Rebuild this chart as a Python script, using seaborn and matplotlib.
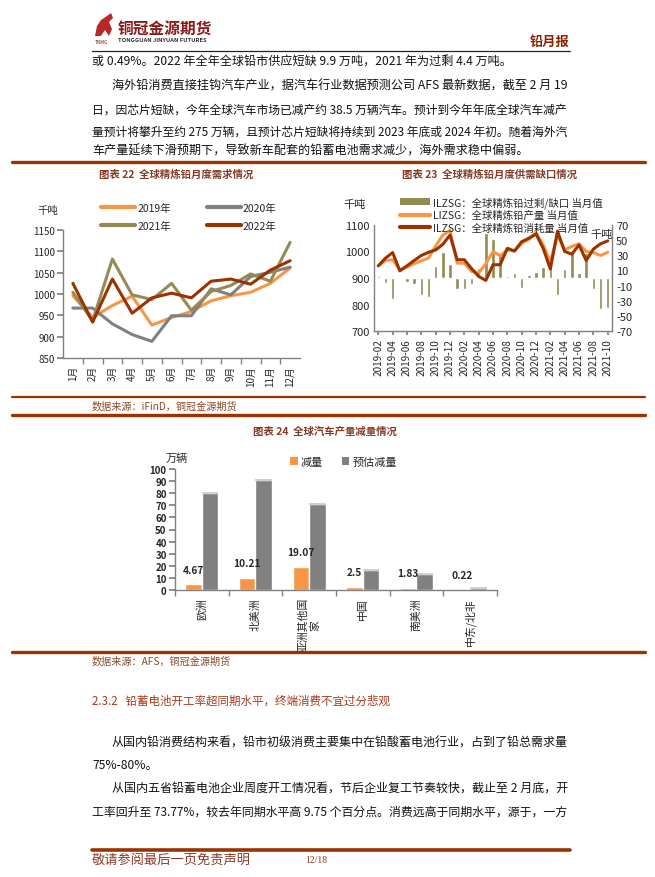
import matplotlib

matplotlib.use("Agg")

import matplotlib.pyplot as plt
import numpy as np
import pandas as pd
import seaborn as sns
from matplotlib.lines import Line2D
from matplotlib.patches import Patch, Polygon

# ---- data ----
months = ["1月", "2月", "3月", "4月", "5月", "6月", "7月", "8月", "9月", "10月", "11月", "12月"]
demand_2019 = [996, 945, 973, 995, 927, 945, 959, 984, 996, 1004, 1025, 1061]
demand_2020 = [967, 967, 930, 905, 889, 949, 949, 1012, 998, 1041, 1051, 1063]
demand_2021 = [1004, 937, 1082, 998, 987, 1025, 962, 1006, 1020, 1047, 1030, 1121]
demand_2022 = [1025, 934, 1035, 955, 991, 1002, 991, 1030, 1035, 1023, 1056, 1078]

gap_months = [
    "2019-02", "2019-03", "2019-04", "2019-05", "2019-06", "2019-07", "2019-08",
    "2019-09", "2019-10", "2019-11", "2019-12", "2020-01", "2020-02", "2020-03",
    "2020-04", "2020-05", "2020-06", "2020-07", "2020-08", "2020-09", "2020-10",
    "2020-11", "2020-12", "2021-01", "2021-02", "2021-03", "2021-04", "2021-05",
    "2021-06", "2021-07", "2021-08", "2021-09", "2021-10",
]
gap_balance = [3, -6.5, -27.5, 1.5, -5, -8, -22, -25, 16, 34.5, 18, -15, -15, -8,
               13, 59, 51, 33, 2, 6, -13.5, 4, 8, 14, 16, -23, 12, 36, 7, 33, -15,
               -41.5, -40]
gap_production = [946, 966, 969, 931, 941, 954, 965, 975, 1021, 1062, 1079, 956, 956,
                  925, 919, 954, 1000, 984, 1006, 1002, 1031, 1046, 1071, 1025, 962,
                  1060, 1006, 1019, 1029, 1000, 996, 985, 997]
gap_consumption = [946, 975, 996, 927, 946, 966, 985, 997, 1006, 1027, 1062, 969, 969,
                   936, 906, 891, 950, 950, 1012, 1002, 1037, 1050, 1066, 1012, 934,
                   1077, 1000, 990, 1025, 966, 1009, 1029, 1040]

regions = ["欧洲", "北美洲", "亚洲其他国家", "中国", "南美洲", "中东/北非"]
region_labels = ["欧洲", "北美洲", "亚洲其他国\n家", "中国", "南美洲", "中东/北非"]
cut_actual = [4.67, 10.21, 19.07, 2.5, 1.83, 0.22]
cut_forecast = [80.5, 91, 71, 16.5, 13.5, 1.8]

# ---- style ----
sns.set_theme(style="white")
plt.rcParams["font.family"] = ["Noto Sans CJK SC", "DejaVu Sans"]
plt.rcParams["axes.unicode_minus"] = False

W, H = 655, 878
BROWN = "#993300"
TITLE_C = "#843C28"
ORANGE = "#F79646"
GRAY = "#808080"
OLIVE = "#948A54"
AXIS_C = "#808080"

fig = plt.figure(figsize=(W / 100, H / 100), dpi=100)
fig.patch.set_facecolor("white")
renderer = fig.canvas.get_renderer()


def add_ax(left, top, right, bottom):
    return fig.add_axes([left / W, 1 - bottom / H, (right - left) / W, (bottom - top) / H])


def ftext(x, y, s, **kw):
    kw.setdefault("va", "center")
    return fig.text(x / W, 1 - y / H, s, **kw)


def hline(y, x0, x1, lw, color):
    fig.add_artist(Line2D([x0 / W, x1 / W], [1 - y / H, 1 - y / H],
                          transform=fig.transFigure, lw=lw, color=color))


def body_line(x0, y, s, x1=None, size=8.7):
    t = ftext(x0, y, s, fontsize=size, color="#111111")
    if x1 is not None:
        width = t.get_window_extent(renderer).width
        t.set_fontsize(size * (x1 - x0) / width)
    return t


def style_axes(ax, right=False):
    for side in ["top", "right", "left", "bottom"]:
        ax.spines[side].set_visible(False)
    for side in ["left", "bottom"] + (["right"] if right else []):
        ax.spines[side].set_visible(True)
        ax.spines[side].set_color(AXIS_C)
        ax.spines[side].set_linewidth(1.0)
    ax.grid(False)
    ax.set_xlabel("")
    ax.set_ylabel("")
    ax.patch.set_visible(False)


# ---- header ----
logo_pts = [(95, 37), (97, 27), (101, 21), (107, 17), (111, 14), (113, 19), (109, 23),
            (112, 30), (109, 37), (105, 31), (101, 37)]
logo = Polygon([(x / W, 1 - y / H) for x, y in logo_pts], closed=True,
               transform=fig.transFigure, facecolor="#B8282A", edgecolor="none")
fig.add_artist(logo)
ftext(95, 42, "TNMG", fontsize=3.4, color="#8B1A1A")
ftext(118, 30, "铜冠金源期货", fontsize=11.3, color="#8B1A1A", fontweight="bold")
ftext(118, 41, "TONGGUAN JINYUAN FUTURES", fontsize=4.2, color="#333333", fontweight="bold")
ftext(570, 42, "铅月报", fontsize=9.5, color="#8B2500", fontweight="bold", ha="right")
hline(52, 92, 570, 0.9, "#222222")

body_line(92, 62, "或 0.49%。2022 年全年全球铅市供应短缺 9.9 万吨，2021 年为过剩 4.4 万吨。")
body_line(112, 86, "海外铅消费直接挂钩汽车产业，据汽车行业数据预测公司 AFS 最新数据，截至 2 月 19", 570)
body_line(92, 110, "日，因芯片短缺，今年全球汽车市场已减产约 38.5 万辆汽车。预计到今年年底全球汽车减产", 570)
body_line(92, 132, "量预计将攀升至约 275 万辆，且预计芯片短缺将持续到 2023 年底或 2024 年初。随着海外汽", 570)
body_line(92, 151, "车产量延续下滑预期下，导致新车配套的铅蓄电池需求减少，海外需求稳中偏弱。")
hline(163, 12, 645, 2.4, BROWN)

# ---- chart 22 ----
ftext(176, 175, "图表 22  全球精炼铅月度需求情况", fontsize=7.5, color=TITLE_C,
      fontweight="bold", ha="center")
ax1 = add_ax(63, 231, 300, 359)
pos12 = np.arange(len(months))
df22 = pd.DataFrame({
    "pos": np.tile(pos12, 4),
    "value": demand_2019 + demand_2020 + demand_2021 + demand_2022,
    "year": ["2019年"] * 12 + ["2020年"] * 12 + ["2021年"] * 12 + ["2022年"] * 12,
})
year_colors = {"2019年": ORANGE, "2020年": GRAY, "2021年": OLIVE, "2022年": BROWN}
sns.lineplot(data=df22, x="pos", y="value", hue="year", palette=year_colors,
             linewidth=2.2, ax=ax1, legend=False)
style_axes(ax1)
ax1.set_xlim(-0.5, 11.5)
ax1.set_ylim(850, 1150)
ax1.set_yticks(range(850, 1151, 50))
ax1.set_xticks(pos12)
ax1.set_xticklabels(months, rotation=90, fontsize=7)
ax1.set_xticks(np.arange(0.5, 11, 1), minor=True)
ax1.tick_params(axis="x", which="major", length=0, pad=5)
ax1.tick_params(axis="x", which="minor", length=4, color=AXIS_C, direction="out", bottom=True)
ax1.tick_params(axis="y", labelsize=7, length=4, color=AXIS_C, direction="out", left=True, pad=2)
ftext(48, 211, "千吨", fontsize=7.5, ha="center")
h22 = [Line2D([], [], color=year_colors[k], lw=3) for k in ["2019年", "2021年", "2020年", "2022年"]]
fig.legend(h22, ["2019年", "2021年", "2020年", "2022年"], ncol=2, frameon=False,
           loc="upper left", bbox_to_anchor=(101 / W, 1 - 204 / H), fontsize=7.5,
           handlelength=3.3, handletextpad=0.2, columnspacing=3.4, labelspacing=0.75,
           borderaxespad=0, borderpad=0)

# ---- chart 23 ----
ftext(490, 175, "图表 23  全球精炼铅月度供需缺口情况", fontsize=7.5, color=TITLE_C,
      fontweight="bold", ha="center")
ax2 = add_ax(374, 226, 612, 332)
tw = ax2.twinx()
pos33 = np.arange(len(gap_months))
sns.barplot(x=pos33, y=gap_balance, color=OLIVE, width=0.5, saturation=1, ax=tw)
df23 = pd.DataFrame({
    "pos": np.tile(pos33, 2),
    "value": gap_production + gap_consumption,
    "series": ["prod"] * len(pos33) + ["cons"] * len(pos33),
})
sns.lineplot(data=df23, x="pos", y="value", hue="series",
             palette={"prod": ORANGE, "cons": BROWN}, linewidth=2.2, ax=ax2, legend=False)
style_axes(ax2, right=True)
for side in ["top", "left", "bottom", "right"]:
    tw.spines[side].set_visible(False)
tw.grid(False)
tw.set_ylabel("")
ax2.set_zorder(tw.get_zorder() + 1)
ax2.set_xlim(-0.6, len(pos33) - 0.4)
tw.set_xlim(-0.6, len(pos33) - 0.4)
ax2.set_ylim(700, 1100)
ax2.set_yticks(range(700, 1101, 100))
tw.set_ylim(-70, 70)
tw.set_yticks(range(-70, 71, 20))
ax2.set_xticks(pos33[::2])
ax2.set_xticklabels(gap_months[::2], rotation=90, fontsize=7.2)
ax2.tick_params(axis="x", length=3, color=AXIS_C, direction="out", bottom=True, pad=2)
ax2.tick_params(axis="y", labelsize=8, length=0, pad=3)
tw.tick_params(axis="y", labelsize=8, length=0, pad=3, right=True)
ftext(355, 205, "千吨", fontsize=8, ha="center")
ftext(602, 235, "千吨", fontsize=8, ha="center")
h23 = [Patch(facecolor=OLIVE, edgecolor="none"),
       Line2D([], [], color=ORANGE, lw=3), Line2D([], [], color=BROWN, lw=3)]
fig.legend(h23, ["ILZSG：全球精炼铅过剩/缺口 当月值", "LIZSG：全球精炼铅产量 当月值",
                 "ILZSG：全球精炼铅消耗量 当月值"],
           frameon=False, loc="upper left", bbox_to_anchor=(400 / W, 1 - 197 / H),
           fontsize=7.5, handlelength=2.9, handleheight=0.7, handletextpad=0.3,
           labelspacing=0.22, borderaxespad=0, borderpad=0)

hline(398, 12, 645, 1.6, BROWN)
ftext(92, 407, "数据来源：iFinD，铜冠金源期货", fontsize=7.3, color="#8B4A2B")
hline(416, 12, 645, 2.4, BROWN)

# ---- chart 24 ----
ftext(325, 432, "图表 24  全球汽车产量减量情况", fontsize=7.5, color=TITLE_C,
      fontweight="bold", ha="center")
ax3 = add_ax(175, 470, 497, 591)
df24 = pd.DataFrame({
    "region": regions * 2,
    "value": cut_actual + cut_forecast,
    "series": ["减量"] * len(regions) + ["预估减量"] * len(regions),
})
sns.barplot(data=df24, x="region", y="value", hue="series",
            palette={"减量": ORANGE, "预估减量": GRAY}, width=0.62, saturation=1,
            ax=ax3, legend=False)
style_axes(ax3)
ax3.set_xlim(-0.5, len(regions) - 0.5)
ax3.set_ylim(0, 100)
ax3.set_yticks(range(0, 101, 10))
ax3.set_xticks(np.arange(len(regions)))
ax3.set_xticklabels(region_labels, rotation=90, fontsize=7.8, multialignment="center")
ax3.set_xticks(np.arange(-0.5, len(regions), 1), minor=True)
ax3.tick_params(axis="x", which="major", length=0, pad=5)
ax3.tick_params(axis="x", which="minor", length=4, color=AXIS_C, direction="out", bottom=True)
ax3.tick_params(axis="y", labelsize=7, length=4, color=AXIS_C, direction="out", left=True, pad=2)
for lab in ax3.get_yticklabels():
    lab.set_fontweight("bold")
# light top edge on the forecast bars, as in the original
for bar in ax3.containers[1]:
    ax3.plot([bar.get_x(), bar.get_x() + bar.get_width()], [bar.get_height()] * 2,
             color="#C8C8C8", lw=1.2, solid_capstyle="butt")
ax3.bar_label(ax3.containers[0], labels=[f"{v:g}" for v in cut_actual], padding=7,
              fontsize=7.3, fontweight="bold")
ftext(177, 459, "万辆", fontsize=8, ha="center")
h24 = [Patch(facecolor=ORANGE, edgecolor="none"), Patch(facecolor=GRAY, edgecolor="none")]
fig.legend(h24, ["减量", "预估减量"], ncol=2, frameon=False, loc="center left",
           bbox_to_anchor=(290 / W, 1 - 463 / H), fontsize=8, handlelength=0.7,
           handleheight=0.7, handletextpad=0.25, columnspacing=1.7,
           borderaxespad=0, borderpad=0)

hline(653, 12, 645, 2.4, BROWN)
ftext(92, 662, "数据来源：AFS，铜冠金源期货", fontsize=7.3, color="#8B4A2B")

# ---- section text ----
ftext(92, 701, "2.3.2   铅蓄电池开工率超同期水平，终端消费不宜过分悲观", fontsize=8.3,
      color="#A83A1C")
body_line(112, 743, "从国内铅消费结构来看，铅市初级消费主要集中在铅酸蓄电池行业，占到了铅总需求量", 570)
body_line(92, 766, "75%-80%。")
body_line(112, 788, "从国内五省铅蓄电池企业周度开工情况看，节后企业复工节奏较快，截止至 2 月底，开", 570)
body_line(92, 812, "工率回升至 73.77%，较去年同期水平高 9.75 个百分点。消费远高于同期水平，源于，一方", 570)

# ---- footer ----
hline(851, 92, 570, 2.6, BROWN)
ftext(92, 860, "敬请参阅最后一页免责声明", fontsize=9.5, color="#8B3A2A", style="italic")
ftext(305, 861, "12/18", fontsize=7, color="#8B3A2A", family=["Liberation Serif", "DejaVu Serif"])

fig.savefig("out.png", dpi=100)
plt.close(fig)
